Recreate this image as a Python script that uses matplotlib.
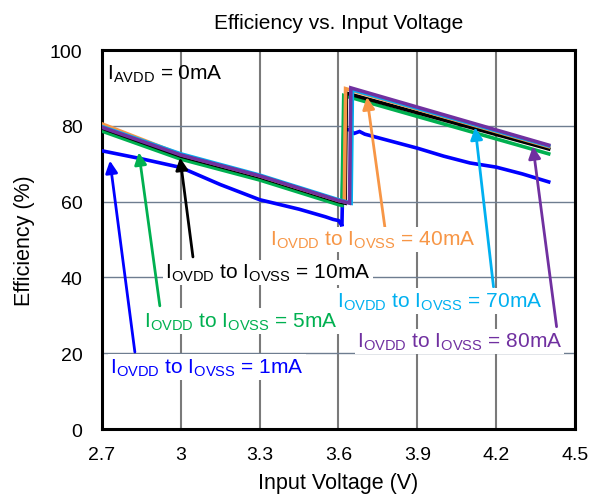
import matplotlib
matplotlib.use("Agg")
import matplotlib.pyplot as plt

plt.rcParams['font.family'] = ['Liberation Sans', 'DejaVu Sans']
plt.rcParams['mathtext.fontset'] = 'custom'
plt.rcParams['mathtext.rm'] = 'Liberation Sans'

# ---- data ----
v_1mA = [2.70, 2.85, 3.00, 3.15, 3.30, 3.45, 3.55, 3.58, 3.60, 3.61, 3.613, 3.62, 3.64, 3.66, 3.68, 3.70, 3.77, 3.90, 4.00, 4.10, 4.20, 4.30, 4.40]
e_1mA = [73.4, 71.3, 69.0, 64.5, 60.5, 58.0, 56.0, 55.3, 55.0, 54.0, 53.5, 79.0, 79.0, 78.0, 78.5, 77.8, 76.5, 74.1, 72.0, 70.2, 69.1, 67.3, 65.2]

v_5mA = [2.70, 3.00, 3.30, 3.60, 3.613, 3.62, 4.40]
e_5mA = [78.6, 71.2, 65.7, 59.2, 59.0, 88.0, 72.6]

v_10mA = [2.70, 3.00, 3.30, 3.60, 3.625, 3.63, 4.40]
e_10mA = [79.4, 72.0, 66.5, 60.0, 59.6, 88.6, 73.9]

v_40mA = [2.70, 3.00, 3.30, 3.60, 3.622, 3.627, 4.40]
e_40mA = [80.5, 72.4, 66.8, 60.3, 60.0, 89.8, 74.5]

v_70mA = [2.70, 3.00, 3.30, 3.60, 3.648, 3.653, 4.40]
e_70mA = [79.8, 72.6, 67.0, 60.5, 59.6, 89.5, 74.7]

v_80mA = [2.70, 3.00, 3.30, 3.60, 3.642, 3.647, 4.40]
e_80mA = [79.6, 72.3, 66.8, 60.3, 59.6, 90.0, 74.9]

series = [
    ("1mA", v_1mA, e_1mA, "#0000ff"),
    ("5mA", v_5mA, e_5mA, "#00b050"),
    ("10mA", v_10mA, e_10mA, "#000000"),
    ("40mA", v_40mA, e_40mA, "#f79646"),
    ("70mA", v_70mA, e_70mA, "#00b0f0"),
    ("80mA", v_80mA, e_80mA, "#7030a0"),
]

x_ticks = [2.7, 3.0, 3.3, 3.6, 3.9, 4.2, 4.5]
x_tick_labels = ["2.7", "3", "3.3", "3.6", "3.9", "4.2", "4.5"]
y_ticks = [0, 20, 40, 60, 80, 100]

# annotations: label, text position (V, %), arrow tip (V, %), arrow tail (V, %), colour
ann = [
    ("1mA", (2.73, 16.3), (2.73, 70.8), (2.825, 20.3), "#0000ff"),
    ("5mA", (2.86, 28.4), (2.84, 73.0), (2.92, 32.5), "#00b050"),
    ("10mA", (2.94, 41.3), (2.997, 71.6), (3.046, 45.4), "#000000"),
    ("40mA", (3.34, 50.0), (3.708, 87.6), (3.777, 53.0), "#f79646"),
    ("70mA", (3.595, 33.7), (4.12, 79.6), (4.19, 37.5), "#00b0f0"),
    ("80mA", (3.67, 23.1), (4.34, 74.6), (4.43, 27.0), "#7030a0"),
]

fig = plt.figure(figsize=(5.97, 5.02), dpi=100)
ax = fig.add_axes([0.1709, 0.1434, 0.7922, 0.755])

for name, v, e, c in series:
    ax.plot(v, e, color=c, lw=2.6, solid_joinstyle='miter', zorder=3)

ax.set_xlim(2.7, 4.5)
ax.set_ylim(0, 100)
ax.set_xticks(x_ticks)
ax.set_xticklabels(x_tick_labels)
ax.set_yticks(y_ticks)
ax.tick_params(length=0, labelsize=14)
ax.tick_params(axis='x', pad=12)
ax.tick_params(axis='y', pad=14)
ax.xaxis.grid(True, color='#7a7a7a', lw=1.5)
ax.yaxis.grid(True, color='#6e7d90', lw=1.0)
ax.set_axisbelow(True)
for s in ax.spines.values():
    s.set_linewidth(2.2)
    s.set_color('black')

ax.set_title("Efficiency vs. Input Voltage", fontsize=15, pad=16)
ax.set_xlabel("Input Voltage (V)", fontsize=15.5, labelpad=7)
ax.set_ylabel("Efficiency (%)", fontsize=15.5, labelpad=11)

ax.text(2.72, 94, r"I$_{\mathregular{AVDD}}$ = 0mA", fontsize=15, ha='left', va='center', zorder=6)

for name, tpos, tip, tail, c in ann:
    ax.annotate("", xy=tip, xytext=tail,
                arrowprops=dict(arrowstyle='-|>', color=c, lw=2.0, mutation_scale=18,
                                shrinkA=0, shrinkB=0), zorder=4)
    ax.text(tpos[0], tpos[1],
            r"I$_{\mathregular{OVDD}}$ to I$_{\mathregular{OVSS}}$ = " + name,
            color=c, fontsize=15, ha='left', va='center', zorder=5,
            bbox=dict(facecolor='white', edgecolor='none', pad=1.5))

fig.savefig("out.png", dpi=100)
